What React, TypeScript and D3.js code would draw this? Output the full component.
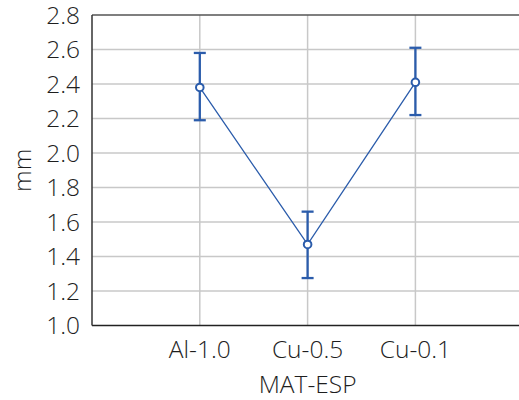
import { useEffect, useRef } from "react";
import * as d3 from "d3";

const categories = ["Al-1.0", "Cu-0.5", "Cu-0.1"];
const means = [2.38, 1.47, 2.41];
const upper = [2.58, 1.66, 2.61];
const lower = [2.19, 1.275, 2.22];
const yTicks = [1.0, 1.2, 1.4, 1.6, 1.8, 2.0, 2.2, 2.4, 2.6, 2.8];

const W = 519;
const H = 400;

const App = () => {
  const ref = useRef<SVGSVGElement>(null);

  useEffect(() => {
    if (!ref.current) return;
    const svg = d3.select(ref.current);
    svg.selectAll("*").remove();

    const left = 92;
    const top = 15;
    const bottom = 325.5;
    const step = 107.8;
    const font = "'Open Sans', Lato, sans-serif";
    const fs = 24.5;

    const y = d3.scaleLinear().domain([1.0, 2.8]).range([bottom, top]);
    // category i sits at slot i+1; slot 0 is the left frame
    const x = d3
      .scaleLinear()
      .domain([-1, categories.length])
      .range([left, left + step * (categories.length + 1)]);

    const blue = "#2b5cab";

    // horizontal grid
    svg
      .append("g")
      .selectAll("line")
      .data(yTicks.slice(1, -1))
      .join("line")
      .attr("x1", left)
      .attr("x2", W)
      .attr("y1", (d) => y(d))
      .attr("y2", (d) => y(d))
      .attr("stroke", "#c8c8c8")
      .attr("stroke-width", 1.5);

    // vertical grid
    svg
      .append("g")
      .selectAll("line")
      .data(categories)
      .join("line")
      .attr("x1", (_, i) => x(i))
      .attr("x2", (_, i) => x(i))
      .attr("y1", top)
      .attr("y2", bottom)
      .attr("stroke", "#c8c8c8")
      .attr("stroke-width", 1.5);

    // frame
    svg.append("line").attr("x1", left).attr("x2", W).attr("y1", top).attr("y2", top)
      .attr("stroke", "#555").attr("stroke-width", 1.5);
    svg.append("line").attr("x1", left).attr("x2", W).attr("y1", bottom).attr("y2", bottom)
      .attr("stroke", "#222").attr("stroke-width", 1.5);
    svg.append("line").attr("x1", left).attr("x2", left).attr("y1", top).attr("y2", bottom)
      .attr("stroke", "#333").attr("stroke-width", 1.5);

    const txt = (sel: any) =>
      sel
        .attr("font-family", font)
        .attr("font-weight", 300)
        .attr("font-size", fs)
        .attr("fill", "#1e1e1e");

    // y tick labels
    svg
      .append("g")
      .selectAll("text")
      .data(yTicks)
      .join("text")
      .attr("x", 80)
      .attr("y", (d) => y(d))
      .attr("dy", "0.36em")
      .attr("text-anchor", "end")
      .call(txt)
      .text((d) => d.toFixed(1));

    // x tick labels
    svg
      .append("g")
      .selectAll("text")
      .data(categories)
      .join("text")
      .attr("x", (_, i) => x(i))
      .attr("y", 358)
      .attr("text-anchor", "middle")
      .call(txt)
      .text((d) => d);

    svg.append("text")
      .attr("x", x(1))
      .attr("y", 393)
      .attr("text-anchor", "middle")
      .call(txt)
      .text("MAT-ESP");

    svg.append("text")
      .attr("transform", `translate(31, ${(top + bottom) / 2}) rotate(-90)`)
      .attr("text-anchor", "middle")
      .call(txt)
      .text("mm");

    // line
    const line = d3
      .line<number>()
      .x((_, i) => x(i))
      .y((d) => y(d));
    svg.append("path")
      .attr("d", line(means))
      .attr("fill", "none")
      .attr("stroke", blue)
      .attr("stroke-width", 1.3);

    // error bars
    const eb = svg.append("g").attr("stroke", blue).attr("stroke-width", 2.3);
    categories.forEach((_, i) => {
      const cx = x(i);
      eb.append("line").attr("x1", cx).attr("x2", cx).attr("y1", y(upper[i])).attr("y2", y(lower[i]));
      eb.append("line").attr("x1", cx - 6).attr("x2", cx + 6).attr("y1", y(upper[i])).attr("y2", y(upper[i]));
      eb.append("line").attr("x1", cx - 6).attr("x2", cx + 6).attr("y1", y(lower[i])).attr("y2", y(lower[i]));
    });

    // markers
    svg
      .append("g")
      .selectAll("circle")
      .data(means)
      .join("circle")
      .attr("cx", (_, i) => x(i))
      .attr("cy", (d) => y(d))
      .attr("r", 3.8)
      .attr("fill", "#fff")
      .attr("stroke", blue)
      .attr("stroke-width", 2);
  }, []);

  return (
    <svg
      ref={ref}
      width={W}
      height={H}
      style={{ position: "absolute", left: 0, top: 0, background: "#fff" }}
    ></svg>
  );
};

export default App;
